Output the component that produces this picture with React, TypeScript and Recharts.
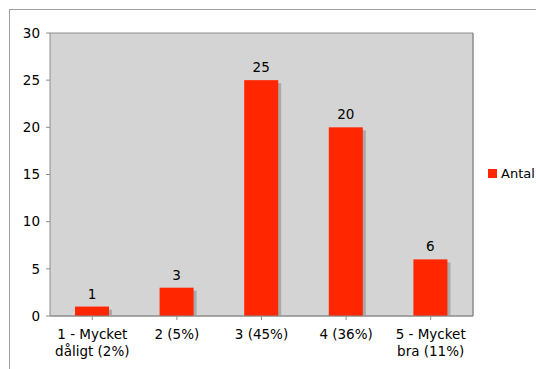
import { Bar, BarChart, CartesianGrid, LabelList, Legend, XAxis, YAxis } from "recharts"

const categories = ["1 - Mycket\ndåligt (2%)", "2 (5%)", "3 (45%)", "4 (36%)", "5 - Mycket\nbra (11%)"]
const antal = [1, 3, 25, 20, 6]
const yTicks = [0, 5, 10, 15, 20, 25, 30]

const data = categories.map((name, i) => ({ name, antal: antal[i] }))

const RED = "#ff2600"
const FONT = "'DejaVu Sans', Verdana, sans-serif"
const FS = 13.5

const ShadowBar = (props: any) => {
  const { x, y, width, height } = props
  if (!height) return null
  return (
    <g>
      <rect x={x + 3} y={y + 3} width={width} height={height - 3} fill="#a9a9a9" />
      <rect x={x} y={y} width={width} height={height} fill={RED} />
    </g>
  )
}

const CategoryTick = (props: any) => {
  const { x, y, payload } = props
  const lines = String(payload.value).split("\n")
  return (
    <text x={x} y={y} textAnchor="middle" fontFamily={FONT} fontSize={FS} fill="#000">
      {lines.map((line, i) => (
        <tspan key={i} x={x} dy={i === 0 ? 19 : 17}>
          {line}
        </tspan>
      ))}
    </text>
  )
}

const LegendBox = () => (
  <div style={{ display: "flex", alignItems: "center", fontFamily: FONT, fontSize: 13, color: "#000", whiteSpace: "nowrap" }}>
    <span style={{ display: "inline-block", width: 9, height: 9, background: RED, marginRight: 4 }} />
    Antal
  </div>
)

export default function App() {
  return (
    <div style={{ position: "absolute", left: 0, top: 0, width: 536, height: 369, overflow: "hidden", background: "#fff" }}>
      <div
        style={{
          position: "absolute",
          left: 9,
          top: 9,
          width: 600,
          height: 400,
          border: "1px solid #a0a0a0",
        }}
      />
      <BarChart
        width={536}
        height={369}
        data={data}
        margin={{ top: 33, right: 0, bottom: 0, left: 0 }}
        style={{ position: "absolute", left: 0, top: 0 }}
      >
        <CartesianGrid vertical={false} fill="#d4d4d4" stroke="#8c8c8c" />
        <XAxis
          dataKey="name"
          interval={0}
          height={53}
          tick={<CategoryTick />}
          tickLine={{ stroke: "#8c8c8c" }}
          axisLine={{ stroke: "#8c8c8c" }}
          tickSize={4}
          tickMargin={0}
          scale="band"
        />
        <YAxis
          yAxisId="left"
          domain={[0, 30]}
          ticks={yTicks}
          width={50}
          tickSize={4}
          tickMargin={6}
          tick={{ fontFamily: FONT, fontSize: FS, fill: "#000" }}
          tickLine={{ stroke: "#8c8c8c" }}
          axisLine={{ stroke: "#8c8c8c" }}
        />
        <YAxis
          yAxisId="right"
          orientation="right"
          domain={[0, 30]}
          width={63}
          tick={false}
          tickLine={false}
          axisLine={{ stroke: "#8c8c8c", strokeWidth: 1.5 }}
        />
        <Legend
          verticalAlign="middle"
          align="center"
          layout="horizontal"
          content={<LegendBox />}
          wrapperStyle={{ left: 488, top: 166, width: 48, height: 16 }}
        />
        <Bar
          yAxisId="left"
          dataKey="antal"
          barSize={34}
          shape={<ShadowBar />}
          isAnimationActive={false}
        >
          <LabelList dataKey="antal" position="top" offset={8} fontFamily={FONT} fontSize={FS} fill="#000" />
        </Bar>
      </BarChart>
    </div>
  )
}
